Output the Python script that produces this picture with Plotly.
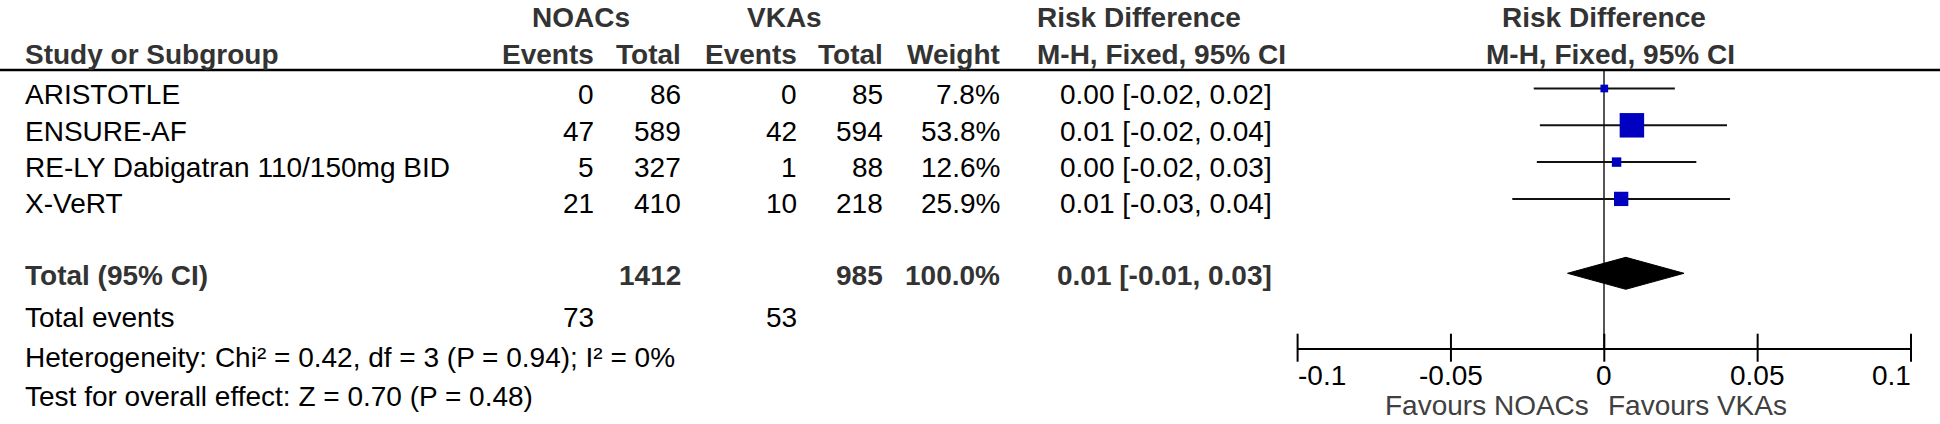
import plotly.graph_objects as go

# ---------------- data ----------------
studies = ["ARISTOTLE", "ENSURE-AF", "RE-LY Dabigatran 110/150mg BID", "X-VeRT"]
noac_events = [0, 47, 5, 21]
noac_total = [86, 589, 327, 410]
vka_events = [0, 42, 1, 10]
vka_total = [85, 594, 88, 218]
weights = [7.8, 53.8, 12.6, 25.9]
rd = [0.000, 0.009, 0.004, 0.0055]
ci_low = [-0.023, -0.021, -0.022, -0.030]
ci_high = [0.023, 0.040, 0.030, 0.041]
total_rd = 0.007
total_low = -0.012
total_high = 0.026
total_weight = 100.0
heterogeneity = "Heterogeneity: Chi² = 0.42, df = 3 (P = 0.94); I² = 0%"
overall_effect = "Test for overall effect: Z = 0.70 (P = 0.48)"
tick_vals = [-0.1, -0.05, 0, 0.05, 0.1]
tick_text = ["-0.1", "-0.05", "0", "0.05", "0.1"]
favours_left = "Favours NOACs"
favours_right = "Favours VKAs"

# ---------------- layout constants (pixels) ----------------
W, H = 1940, 424
HEADER_LINE_Y = 70
AXIS_Y = 347.7
X0_PX, X1_PX = 1297.6, 1911.0
ROW_TEXT_Y = [94.5, 131.0, 167.5, 203.5]
MARK_Y = [88.5, 125.3, 162.1, 198.9]
TOTAL_Y = 275
DIAMOND_Y = 273.3
DIAMOND_HALF = 16
TOTAL_EVENTS_Y = 317.7
HET_Y = 357.5
TEST_Y = 396
HEAD1_Y = 17
HEAD2_Y = 54
TICKLABEL_Y = 375
FAVOURS_Y = 405

COL_STUDY = 25
COL_NE, COL_NT, COL_VE, COL_VT, COL_W, COL_RD = 594, 681, 797, 883, 1000, 1272
FONT = "Liberation Sans, Arial, sans-serif"
FS = 28
HEAD_COLOR = "#333333"

fig = go.Figure()

# CI lines + weight squares
fig.add_trace(go.Scatter(
    x=rd, y=MARK_Y, mode="markers",
    marker=dict(symbol="square", color="#0000C0", opacity=1,
                size=[4.85 + 0.365 * w for w in weights],
                line=dict(width=0)),
    error_x=dict(type="data", symmetric=False,
                 array=[h - r for h, r in zip(ci_high, rd)],
                 arrayminus=[r - l for r, l in zip(rd, ci_low)],
                 width=0, thickness=2, color="#111111"),
    cliponaxis=False, hoverinfo="skip", showlegend=False))

# total diamond
fig.add_trace(go.Scatter(
    x=[total_low, total_rd, total_high, total_rd, total_low],
    y=[DIAMOND_Y, DIAMOND_Y - DIAMOND_HALF, DIAMOND_Y, DIAMOND_Y + DIAMOND_HALF, DIAMOND_Y],
    mode="lines", fill="toself", fillcolor="black",
    line=dict(color="black", width=1), cliponaxis=False,
    hoverinfo="skip", showlegend=False))

# axis ticks (extend both sides of the axis line)
fig.add_trace(go.Scatter(
    x=tick_vals, y=[AXIS_Y] * len(tick_vals), mode="markers",
    marker=dict(symbol="line-ns", size=20, line=dict(width=2, color="black")),
    cliponaxis=False, hoverinfo="skip", showlegend=False))

ann = []


def txt(xp, yp, s, anchor="left", bold=False, color="black"):
    ann.append(dict(
        x=xp / W, y=1 - yp / H, xref="paper", yref="paper",
        text=("<b>%s</b>" % s) if bold else s,
        xanchor=anchor, yanchor="middle", showarrow=False,
        borderpad=0, borderwidth=0,
        font=dict(family=FONT, size=FS, color=color)))


# headers
txt(581, HEAD1_Y, "NOACs", "center", True, HEAD_COLOR)
txt(784, HEAD1_Y, "VKAs", "center", True, HEAD_COLOR)
txt(1037, HEAD1_Y, "Risk Difference", "left", True, HEAD_COLOR)
txt(1604, HEAD1_Y, "Risk Difference", "center", True, HEAD_COLOR)
txt(COL_STUDY, HEAD2_Y, "Study or Subgroup", "left", True, HEAD_COLOR)
txt(COL_NE, HEAD2_Y, "Events", "right", True, HEAD_COLOR)
txt(COL_NT, HEAD2_Y, "Total", "right", True, HEAD_COLOR)
txt(COL_VE, HEAD2_Y, "Events", "right", True, HEAD_COLOR)
txt(COL_VT, HEAD2_Y, "Total", "right", True, HEAD_COLOR)
txt(COL_W, HEAD2_Y, "Weight", "right", True, HEAD_COLOR)
txt(1037, HEAD2_Y, "M-H, Fixed, 95% CI", "left", True, HEAD_COLOR)
txt(1610, HEAD2_Y, "M-H, Fixed, 95% CI", "center", True, HEAD_COLOR)

# study rows
for i, name in enumerate(studies):
    y = ROW_TEXT_Y[i]
    txt(COL_STUDY, y, name)
    txt(COL_NE, y, str(noac_events[i]), "right")
    txt(COL_NT, y, str(noac_total[i]), "right")
    txt(COL_VE, y, str(vka_events[i]), "right")
    txt(COL_VT, y, str(vka_total[i]), "right")
    txt(COL_W, y, "%.1f%%" % weights[i], "right")
    txt(COL_RD, y, "%.2f [%.2f, %.2f]" % (rd[i], ci_low[i], ci_high[i]), "right")

# totals
txt(COL_STUDY, TOTAL_Y, "Total (95% CI)", "left", True, HEAD_COLOR)
txt(COL_NT, TOTAL_Y, str(sum(noac_total)), "right", True, HEAD_COLOR)
txt(COL_VT, TOTAL_Y, str(sum(vka_total)), "right", True, HEAD_COLOR)
txt(COL_W, TOTAL_Y, "%.1f%%" % total_weight, "right", True, HEAD_COLOR)
txt(COL_RD, TOTAL_Y, "%.2f [%.2f, %.2f]" % (total_rd, total_low, total_high), "right", True, HEAD_COLOR)
txt(COL_STUDY, TOTAL_EVENTS_Y, "Total events")
txt(COL_NE, TOTAL_EVENTS_Y, str(sum(noac_events)), "right")
txt(COL_VE, TOTAL_EVENTS_Y, str(sum(vka_events)), "right")
txt(COL_STUDY, HET_Y, heterogeneity)
txt(COL_STUDY, TEST_Y, overall_effect)

# tick labels
for v, t in zip(tick_vals, tick_text):
    anchor = "left" if v == min(tick_vals) else ("right" if v == max(tick_vals) else "center")
    ann.append(dict(x=v, y=1 - TICKLABEL_Y / H, xref="x", yref="paper", text=t,
                    xanchor=anchor, yanchor="middle", showarrow=False,
                    borderpad=0, borderwidth=0,
                    font=dict(family=FONT, size=FS, color="black")))

txt(1589, FAVOURS_Y, favours_left, "right", False, "#404040")
txt(1608, FAVOURS_Y, favours_right, "left", False, "#404040")

fig.update_layout(
    width=W, height=H, margin=dict(l=0, r=0, t=0, b=0),
    paper_bgcolor="white", plot_bgcolor="rgba(0,0,0,0)",
    annotations=ann,
    shapes=[dict(type="line", xref="paper", yref="paper", x0=0, x1=1,
                 y0=1 - HEADER_LINE_Y / H, y1=1 - HEADER_LINE_Y / H,
                 line=dict(color="black", width=2.5))],
    xaxis=dict(domain=[X0_PX / W, X1_PX / W], range=[-0.1, 0.1],
               showline=True, linecolor="black", linewidth=2,
               ticks="", showticklabels=False, showgrid=False,
               zeroline=True, zerolinecolor="#555555", zerolinewidth=2,
               fixedrange=True),
    yaxis=dict(domain=[1 - AXIS_Y / H, 1 - HEADER_LINE_Y / H],
               range=[AXIS_Y, HEADER_LINE_Y], visible=False,
               showgrid=False, zeroline=False, fixedrange=True),
    showlegend=False,
)

fig.write_html("out.html",
               config={"displayModeBar": False, "staticPlot": True},
               post_script="document.body.style.margin='0px';document.body.style.overflow='hidden';")
